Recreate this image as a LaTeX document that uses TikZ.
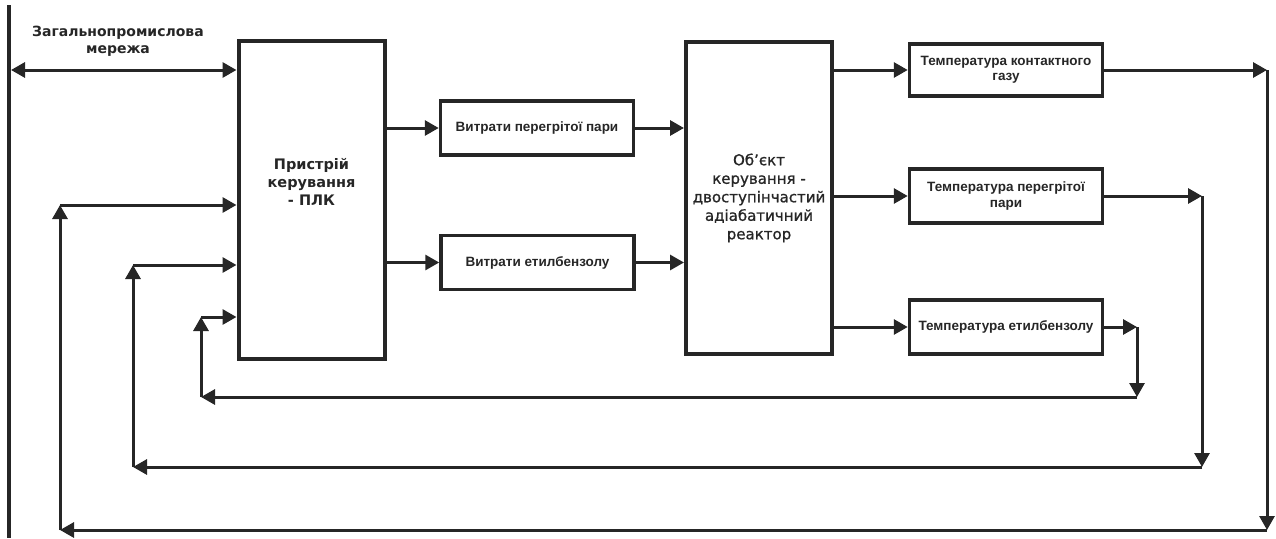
\documentclass[tikz,border=0pt]{standalone}
\usepackage{fontspec}
\setmainfont{Liberation Sans}
\newfontfamily\reactorfont[FakeBold=1]{DejaVu Sans}
\newfontfamily\labelfont{DejaVu Sans}
\usetikzlibrary{arrows.meta, positioning, calc}

\begin{document}
\begin{tikzpicture}[x=1pt, y=-1pt,
    block/.style={rectangle, draw=black!85, text=black!85, line width=3.5pt, align=center, inner sep=0pt, font=\bfseries\fontsize{13.5}{15.5}\selectfont, minimum width=193pt, minimum height=54pt},
    ctrl/.style={block, line width=4pt, minimum width=146pt, minimum height=318pt, font=\labelfont\bfseries\fontsize{14.5}{18}\selectfont},
    sig/.style={line width=3pt, draw=black!85, -{Triangle[length=14pt, width=15pt]}}
]
    \useasboundingbox (0,0) rectangle (1276,538);

    \node [ctrl, text depth=35pt] (plc) at (311.5,199.5) {Пристрій\\керування\\- ПЛК};
    \node [ctrl, minimum height=312pt, font=\reactorfont\fontsize{15}{18.5}\selectfont] (reactor) at (759,198) {Об’єкт\\керування -\\двоступінчастий\\адіабатичний\\реактор};

    \node [block] (fsteam) at (537,128) {Витрати перегрітої пари};
    \node [block] (febz) at (537.5,262.5) {Витрати етилбензолу};

    \node [block, minimum height=52pt] (tgas) at (1006,70) {Температура контактного\\газу};
    \node [block] (tsteam) at (1006,196) {Температура перегрітої\\пари};
    \node [block] (tebz) at (1006,327) {Температура етилбензолу};

    \node [font=\labelfont\bfseries\fontsize{14}{17}\selectfont, text=black!85, align=center] (net) at (118,41) {Загальнопромислова\\мережа};

    % шина мережі
    \coordinate (bustop) at (9,5);
    \coordinate (busbot) at (9,538);
    \draw [line width=3.5pt, draw=black!85] (bustop) -- (busbot);
    \coordinate (netL) at (11,70);
    \draw [sig, {Triangle[length=14pt, width=15pt]}-{Triangle[length=14pt, width=15pt]}] (netL) -- (plc.west |- netL);

    % прямий канал
    \draw [sig] (plc.east |- fsteam) -- (fsteam);
    \draw [sig] (plc.east |- febz) -- (febz);
    \draw [sig] (fsteam) -- (reactor.west |- fsteam);
    \draw [sig] (febz) -- (reactor.west |- febz);
    \draw [sig] (reactor.east |- tgas) -- (tgas);
    \draw [sig] (reactor.east |- tsteam) -- (tsteam);
    \draw [sig] (reactor.east |- tebz) -- (tebz);

    % зворотні зв'язки
    \coordinate (gasR) at (1267,70);
    \coordinate (gasB) at (1267,530);
    \coordinate (gasL) at (60,530);
    \coordinate (gasU) at (60,205);
    \draw [sig] (tgas) -- (gasR);
    \draw [sig] (gasR) -- (gasB);
    \draw [sig] (gasB) -- (gasL);
    \draw [sig] (gasL) -- (gasU);
    \draw [sig] (gasU) -- (plc.west |- gasU);

    \coordinate (stR) at (1202,196);
    \coordinate (stB) at (1202,467);
    \coordinate (stL) at (133,467);
    \coordinate (stU) at (133,265);
    \draw [sig] (tsteam) -- (stR);
    \draw [sig] (stR) -- (stB);
    \draw [sig] (stB) -- (stL);
    \draw [sig] (stL) -- (stU);
    \draw [sig] (stU) -- (plc.west |- stU);

    \coordinate (ebR) at (1137,327);
    \coordinate (ebB) at (1137,397);
    \coordinate (ebL) at (201,397);
    \coordinate (ebU) at (201,317);
    \draw [sig] (tebz) -- (ebR);
    \draw [sig] (ebR) -- (ebB);
    \draw [sig] (ebB) -- (ebL);
    \draw [sig] (ebL) -- (ebU);
    \draw [sig] (ebU) -- (plc.west |- ebU);
\end{tikzpicture}
\end{document}
